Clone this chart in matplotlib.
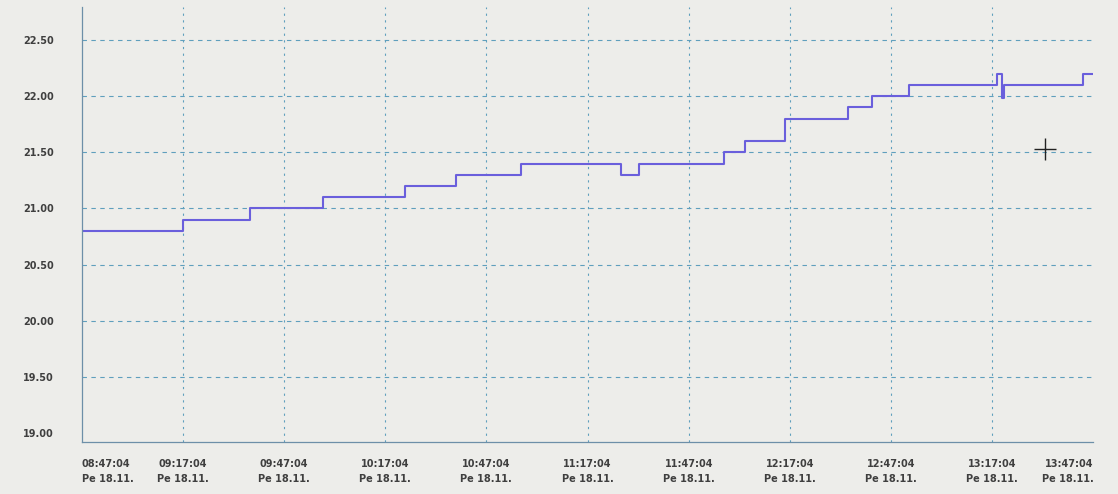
import matplotlib
matplotlib.use("Agg")
import matplotlib.pyplot as plt
import pandas as pd

# temperature log, one value per change (held until the next change)
change_times = [
    "08:47:04", "09:17:04", "09:36:52", "09:58:40", "10:22:58", "10:37:58",
    "10:57:16", "11:27:04", "11:32:16", "11:57:34", "12:03:40", "12:15:40",
    "12:34:22", "12:41:22", "12:52:28", "13:18:34", "13:20:04", "13:20:34",
    "13:44:04", "13:47:04",
]
temps = [
    20.80, 20.90, 21.00, 21.10, 21.20, 21.30,
    21.40, 21.30, 21.40, 21.50, 21.60, 21.80,
    21.90, 22.00, 22.10, 22.20, 21.98, 22.10,
    22.20, 22.20,
]

tick_times = ["08:47:04", "09:17:04", "09:47:04", "10:17:04", "10:47:04",
              "11:17:04", "11:47:04", "12:17:04", "12:47:04", "13:17:04",
              "13:47:04"]
day_label = "Pe 18.11."
y_ticks = [19.00, 19.50, 20.00, 20.50, 21.00, 21.50, 22.00, 22.50]

DAY = "2021-11-18 "
t = pd.to_datetime([DAY + s for s in change_times])
ticks = pd.to_datetime([DAY + s for s in tick_times])

bg = "#ededea"
grid_c = "#5f9fbd"

fig = plt.figure(figsize=(11.18, 4.94), dpi=100, facecolor=bg)
ax = fig.add_axes([0.073, 0.105, 0.905, 0.88], facecolor=bg)

ax.plot(t, temps, drawstyle="steps-post", color="#6a5fdc", lw=1.5)

ax.set_xlim(ticks[0], ticks[-1])
ax.set_ylim(18.92, 22.79)

# dashed grid, skip the lines that sit on the frame
for yv in y_ticks[1:]:
    ax.axhline(yv, color=grid_c, lw=0.8, ls=(0, (4, 4)), zorder=0)
for tv in ticks[1:-1]:
    ax.axvline(tv, color=grid_c, lw=0.8, ls=(0, (2, 4)), zorder=0)

ax.set_yticks(y_ticks)
ax.set_yticklabels([f"{v:.2f}" for v in y_ticks])
ax.set_xticks(ticks)
ax.set_xticklabels([f"{s}\n{day_label}" for s in tick_times])
ax.tick_params(length=0, labelsize=7, labelcolor="#3f3f3f")
ax.tick_params(axis="y", pad=20)
ax.tick_params(axis="x", pad=12)
for lbl in ax.get_xticklabels() + ax.get_yticklabels():
    lbl.set_fontweight("semibold")
for lbl in ax.get_xticklabels():
    lbl.set_linespacing(1.6)
ax.get_xticklabels()[0].set_ha("left")
ax.get_xticklabels()[-1].set_ha("right")

for side in ("top", "right"):
    ax.spines[side].set_visible(False)
for side in ("left", "bottom"):
    ax.spines[side].set_color("#6d8fa8")
    ax.spines[side].set_linewidth(0.9)

# mouse cursor crosshair
ax.plot([0.952], [0.675], marker="+", ms=16, mew=1.0, color="#222222",
        transform=ax.transAxes, clip_on=False)

fig.savefig("out.png", dpi=100, facecolor=bg)
